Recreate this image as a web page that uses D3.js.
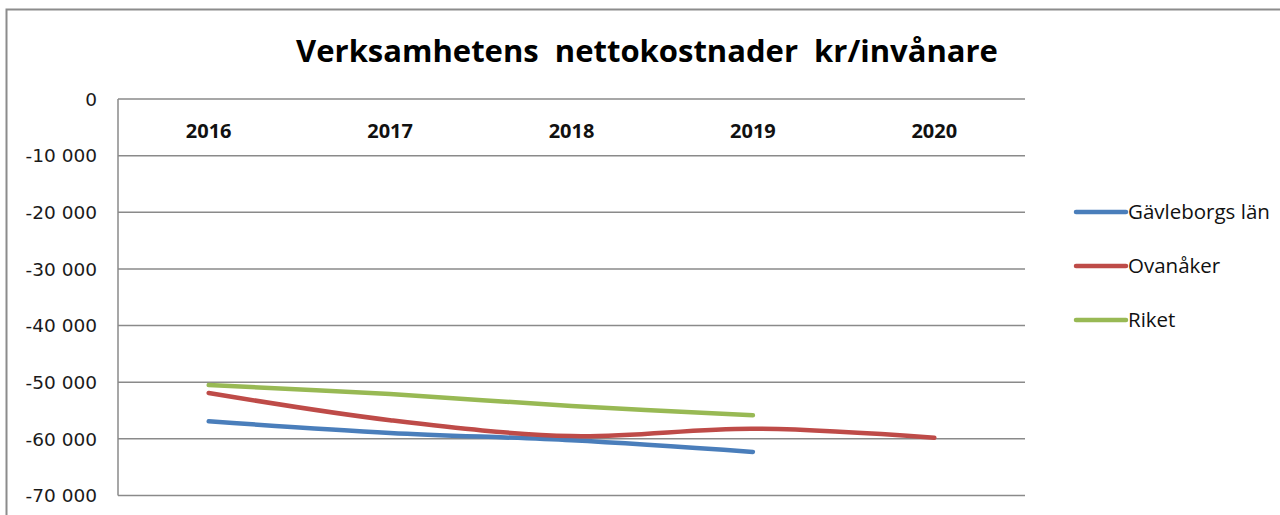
<!DOCTYPE html>
<html>
<head>
<meta charset="utf-8">
<script src="https://cdn.jsdelivr.net/npm/d3@7"></script>
<style>
  html, body { margin: 0; padding: 0; background: #fff; }
  svg { display: block; }
</style>
</head>
<body>
<svg id="chart" width="1280" height="515"></svg>
<script>
// Net operating cost per inhabitant (kr), by year
const years = ["2016", "2017", "2018", "2019", "2020"];
const gavleborg = [-56900, -58950, -60250, -62300, null];
const ovanaker = [-51900, -56700, -59500, -58200, -59800];
const riket = [-50500, -52100, -54200, -55850, null];
const yTicks = [0, -10000, -20000, -30000, -40000, -50000, -60000, -70000];

const series = [
  { name: "Gävleborgs län", values: gavleborg, color: "#4a7ebb" },
  { name: "Ovanåker", values: ovanaker, color: "#be4b48" },
  { name: "Riket", values: riket, color: "#98b954" }
];

const svg = d3.select("#chart");

// Outer chart frame
svg.append("rect")
  .attr("x", 6.5).attr("y", 9.5)
  .attr("width", 1300).attr("height", 530)
  .attr("fill", "#fff")
  .attr("stroke", "#8c8c8c").attr("stroke-width", 2);

const plot = { left: 118, right: 1025, top: 99, bottom: 495.5 };

const x = d3.scaleBand().domain(years).range([plot.left, plot.right]);
const y = d3.scaleLinear().domain([0, -70000]).range([plot.top, plot.bottom]);

const locale = d3.formatLocale({ decimal: ",", thousands: "\u00a0", grouping: [3], currency: ["", ""], minus: "-" });
const fmt = locale.format(",d");

// Horizontal gridlines
svg.append("g")
  .selectAll("line")
  .data(yTicks)
  .join("line")
  .attr("x1", plot.left).attr("x2", plot.right)
  .attr("y1", d => y(d)).attr("y2", d => y(d))
  .attr("stroke", "#8a8a8a").attr("stroke-width", 1.5);

// Value axis line
svg.append("line")
  .attr("x1", plot.left).attr("x2", plot.left)
  .attr("y1", plot.top).attr("y2", plot.bottom)
  .attr("stroke", "#8a8a8a").attr("stroke-width", 1.5);

// Value axis labels
svg.append("g")
  .selectAll("text")
  .data(yTicks)
  .join("text")
  .attr("x", 97)
  .attr("y", d => y(d))
  .attr("dy", "0.36em")
  .attr("text-anchor", "end")
  .attr("font-family", "DejaVu Sans")
  .attr("font-size", 18.5)
  .attr("fill", "#1a1a1a")
  .text(d => fmt(d));

// Category labels, placed along the zero line
svg.append("g")
  .selectAll("text")
  .data(years)
  .join("text")
  .attr("x", d => x(d) + x.bandwidth() / 2)
  .attr("y", 131)
  .attr("dy", "0.36em")
  .attr("text-anchor", "middle")
  .attr("font-family", "Open Sans")
  .attr("font-weight", "bold")
  .attr("font-size", 20)
  .attr("fill", "#111")
  .text(d => d);

// Smoothed series lines
const line = d3.line()
  .defined(d => d.v !== null)
  .x(d => x(d.year) + x.bandwidth() / 2)
  .y(d => y(d.v))
  .curve(d3.curveCatmullRom.alpha(0));

svg.append("g")
  .selectAll("path")
  .data(series)
  .join("path")
  .attr("d", s => line(years.map((yr, i) => ({ year: yr, v: s.values[i] }))))
  .attr("fill", "none")
  .attr("stroke", s => s.color)
  .attr("stroke-width", 4.5)
  .attr("stroke-linecap", "round")
  .attr("stroke-linejoin", "round");

// Legend
const legend = svg.append("g")
  .selectAll("g")
  .data(series)
  .join("g")
  .attr("transform", (d, i) => `translate(1076, ${212 + i * 54})`);

legend.append("line")
  .attr("x1", 0).attr("x2", 50)
  .attr("stroke", d => d.color)
  .attr("stroke-width", 4.5)
  .attr("stroke-linecap", "round");

legend.append("text")
  .attr("x", 52)
  .attr("dy", "0.36em")
  .attr("font-family", "Open Sans")
  .attr("font-size", 20.5)
  .attr("fill", "#111")
  .text(d => d.name);

// Title
svg.append("text")
  .attr("x", 647)
  .attr("y", 51)
  .attr("dy", "0.36em")
  .attr("text-anchor", "middle")
  .attr("font-family", "Open Sans")
  .attr("font-weight", "bold")
  .attr("font-size", 31)
  .attr("fill", "#000")
  .attr("xml:space", "preserve")
  .style("white-space", "pre")
  .text("Verksamhetens  nettokostnader  kr/invånare");
</script>
</body>
</html>
